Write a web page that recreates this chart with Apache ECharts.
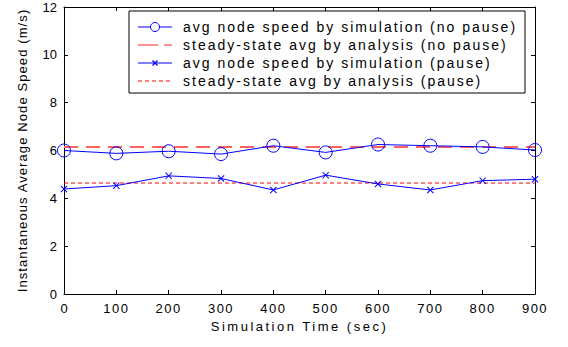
<!DOCTYPE html>
<html><head><meta charset="utf-8">
<script src="https://cdn.jsdelivr.net/npm/echarts@6/dist/echarts.min.js"></script>
<style>html,body{margin:0;padding:0;background:#fff}#c{width:568px;height:347px}</style>
</head><body><div id="c"></div>
<script>
const times = [0, 100, 200, 300, 400, 500, 600, 700, 800, 900];
const simNoPause = [6.0, 5.88, 5.97, 5.85, 6.2, 5.92, 6.25, 6.2, 6.15, 6.02];
const simPause = [4.39, 4.53, 4.94, 4.83, 4.35, 4.97, 4.6, 4.35, 4.74, 4.8];
const steadyNoPauseX = [0, 900];
const steadyNoPause = [6.15, 6.15];
const steadyPauseX = [0, 900];
const steadyPause = [4.64, 4.64];
const xTicks = ['0', '100', '200', '300', '400', '500', '600', '700', '800', '900'];
const names = [
  'avg node speed by simulation (no pause)',
  'steady-state avg by analysis (no pause)',
  'avg node speed by simulation (pause)',
  'steady-state avg by analysis (pause)'
];
const xName = 'Simulation Time (sec)';
const yName = 'Instantaneous Average Node Speed (m/s)';
const pair = (xs, ys) => xs.map((x, i) => [x, ys[i]]);
const xMark = 'path://M0,1L1,0L5,4L9,0L10,1L6,5L10,9L9,10L5,6L1,10L0,9L4,5Z';
const font = 'Liberation Sans, Arial, sans-serif';

// legend drawn as graphic
const LX = 129, LY = 11, LW = 396, LH = 82;
const rowY = [27, 45, 63, 81];
const legend = [{
  type: 'rect', shape: {x: LX, y: LY, width: LW, height: LH},
  style: {fill: '#fff', stroke: '#000', lineWidth: 1}, z: 100
}];
const seg = (x1, y1, x2, y2, stroke, w, dash) => ({
  type: 'line', shape: {x1, y1, x2, y2},
  style: {stroke, lineWidth: w, lineDash: dash || null}, z: 101
});
legend.push(seg(138, rowY[0], 172, rowY[0], '#0000ff', 1));
legend.push({type: 'circle', shape: {cx: 155, cy: rowY[0], r: 4.5},
  style: {fill: '#fff', stroke: '#0000ff', lineWidth: 1}, z: 102});
legend.push(seg(138, rowY[1], 172, rowY[1], '#ff2020', 1, [20, 6]));
legend.push(seg(138, rowY[2], 172, rowY[2], '#0000ff', 1));
legend.push(seg(152.5, rowY[2] - 2.5, 157.5, rowY[2] + 2.5, '#0000ff', 1.2));
legend.push(seg(157.5, rowY[2] - 2.5, 152.5, rowY[2] + 2.5, '#0000ff', 1.2));
legend.push(seg(138, rowY[3], 172, rowY[3], '#ff0000', 1, [4, 3]));
names.forEach((n, i) => legend.push({
  type: 'text', x: 183, y: rowY[i],
  style: {text: n, fill: '#000', font: '14px ' + font, verticalAlign: 'middle'},
  z: 102
}));

const chart = echarts.init(document.getElementById('c'), null, {renderer: 'svg'});
const axisLine = {show: true, onZero: false, lineStyle: {color: '#000', width: 1}};
const tick = {inside: true, length: 4, lineStyle: {color: '#000'}};
chart.setOption({
  animation: false,
  grid: {left: 64, right: 33, top: 7, bottom: 53},
  graphic: legend,
  xAxis: [{
    type: 'value', min: 0, max: 900, interval: 100,
    name: xName, nameLocation: 'middle', nameGap: 21,
    nameTextStyle: {fontFamily: font, fontSize: 13, color: '#000'},
    axisLine, axisTick: tick,
    axisLabel: {fontFamily: font, fontSize: 13, color: '#000', margin: 8,
      formatter: (v) => xTicks[Math.round(v / 100)]},
    splitLine: {show: false}
  }, {
    type: 'value', min: 0, max: 900, interval: 100, position: 'top',
    axisLine, axisTick: tick,
    axisLabel: {show: false}, splitLine: {show: false}
  }],
  yAxis: [{
    type: 'value', min: 0, max: 12, interval: 2,
    name: yName, nameLocation: 'middle', nameGap: 35,
    nameTextStyle: {fontFamily: font, fontSize: 13, color: '#000'},
    axisLine, axisTick: tick,
    axisLabel: {fontFamily: font, fontSize: 13, color: '#000', margin: 7},
    splitLine: {show: false}
  }, {
    type: 'value', min: 0, max: 12, interval: 2, position: 'right',
    axisLine, axisTick: tick,
    axisLabel: {show: false}, splitLine: {show: false}
  }],
  series: [{
    name: names[0], type: 'line', data: pair(times, simNoPause),
    symbol: 'circle', symbolSize: 13, showAllSymbol: true,
    lineStyle: {color: '#0000ff', width: 1},
    itemStyle: {color: 'rgba(255,255,255,0)', borderColor: '#0000ff', borderWidth: 1}, z: 3
  }, {
    name: names[1], type: 'line', data: pair(steadyNoPauseX, steadyNoPause),
    symbol: 'none', lineStyle: {color: '#ff6060', width: 2, type: [14, 8]}, z: 2
  }, {
    name: names[2], type: 'line', data: pair(times, simPause),
    symbol: xMark, symbolSize: 7, showAllSymbol: true,
    lineStyle: {color: '#0000ff', width: 1},
    itemStyle: {color: '#0000ff'}, z: 3
  }, {
    name: names[3], type: 'line', data: pair(steadyPauseX, steadyPause),
    symbol: 'none', lineStyle: {color: '#ff0000', width: 1, type: [4, 3]}, z: 2
  }]
});

function spaceText() {
  document.querySelectorAll('#c svg text').forEach(t => {
    const s = t.textContent;
    if (names.includes(s)) t.setAttribute('letter-spacing', '2');
    else if (s === xName) t.setAttribute('letter-spacing', '2.5');
    else if (s === yName) t.setAttribute('letter-spacing', '1.1');
    else if (xTicks.includes(s) && s.length > 1) t.setAttribute('letter-spacing', '1.5');
  });
}
spaceText();
chart.on('finished', spaceText);
setTimeout(spaceText, 0);
</script></body></html>
